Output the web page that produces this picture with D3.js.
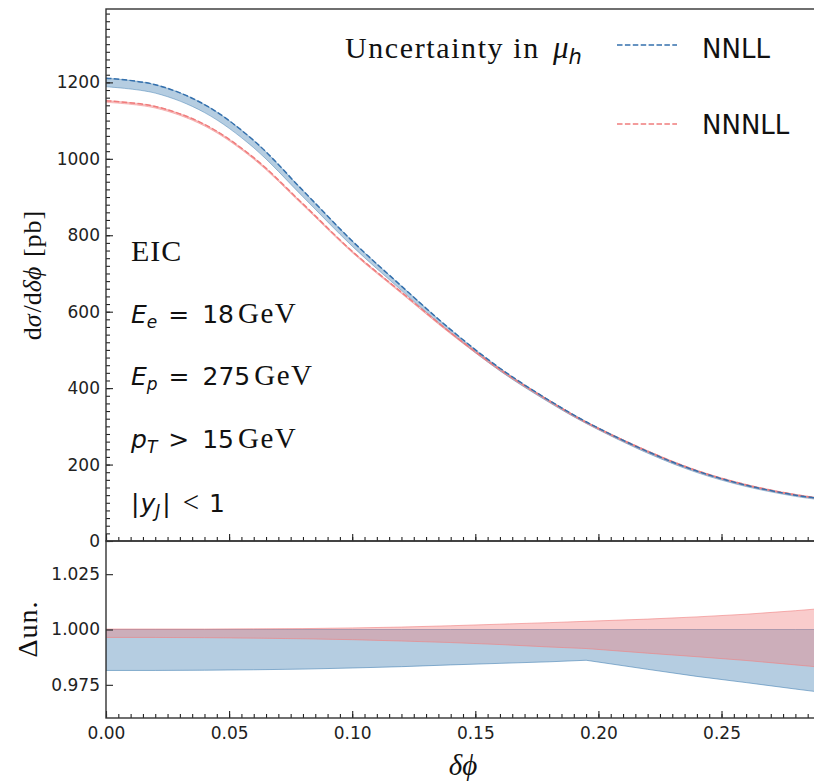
<!DOCTYPE html>
<html>
<head>
<meta charset="utf-8">
<script src="https://cdn.jsdelivr.net/npm/d3@7"></script>
<style>
  body { margin: 0; background: #fff; }
  svg { display: block; }
</style>
</head>
<body>
<div id="chart"></div>
<script>
// data
const dphi   = [0, 0.02, 0.04, 0.06, 0.08, 0.10, 0.12, 0.14, 0.16, 0.18, 0.195, 0.22, 0.24, 0.26, 0.28, 0.29];
const nnll   = [1211, 1194, 1142, 1048, 917, 785, 667, 553, 452, 368, 312, 234, 183, 146, 120, 111];
const nnnll  = [1152, 1137, 1090, 1003, 882, 758, 651, 545, 449, 367, 311, 235, 184, 147, 121, 112];
// band edges relative to the central value
const nnllLo  = [0.9815, 0.9815, 0.9816, 0.9818, 0.9821, 0.9826, 0.9832, 0.9840, 0.9847, 0.9854, 0.9861, 0.9820, 0.9788, 0.9760, 0.9731, 0.9717];
const nnllHi  = [1, 1, 1, 1, 1, 1, 1, 1, 1, 1, 1, 1, 1, 1, 1, 1];
const nnnllLo = [0.9964, 0.9964, 0.9963, 0.9961, 0.9958, 0.9954, 0.9948, 0.9941, 0.9932, 0.9921, 0.9914, 0.9893, 0.9877, 0.9860, 0.9840, 0.9830];
const nnnllHi = [1.0002, 1.0002, 1.0002, 1.0003, 1.0004, 1.0007, 1.0011, 1.0017, 1.0024, 1.0031, 1.0037, 1.0047, 1.0057, 1.0069, 1.0085, 1.0094];

const xTicks = [0, 0.05, 0.10, 0.15, 0.20, 0.25];
const yTicks = [0, 200, 400, 600, 800, 1000, 1200];
const rTicks = [0.975, 1.000, 1.025];

const width = 814, height = 783;
const pLeft = 106, pRight = 820, pTop = 9, pMid = 541, pBottom = 718;

const blue = "#3470ad", blueFill = "rgb(70,130,180)";
const red = "#f07c7c", redFill = "rgb(240,128,128)";

const svg = d3.select("#chart").append("svg")
  .attr("width", width).attr("height", height);

const x = d3.scaleLinear().domain([0, 0.29]).range([pLeft, pRight]);
const y = d3.scaleLinear().domain([0, 1392]).range([pMid, pTop]);
const yr = d3.scaleLinear().domain([0.96, 1.04]).range([pBottom, pMid]);

svg.append("clipPath").attr("id", "clipMain")
  .append("rect").attr("x", pLeft).attr("y", pTop).attr("width", pRight - pLeft).attr("height", pMid - pTop);
svg.append("clipPath").attr("id", "clipRatio")
  .append("rect").attr("x", pLeft).attr("y", pMid).attr("width", pRight - pLeft).attr("height", pBottom - pMid);

const pts = dphi.map((d, i) => ({
  x: d, a: nnll[i], b: nnnll[i],
  aLo: nnllLo[i], aHi: nnllHi[i], bLo: nnnllLo[i], bHi: nnnllHi[i]
}));

// main panel
const gMain = svg.append("g").attr("clip-path", "url(#clipMain)");
const smooth = d3.curveCatmullRom.alpha(0.5);

const bandA = d3.area().curve(smooth)
  .x(d => x(d.x)).y0(d => y(d.a * d.aLo)).y1(d => y(d.a * d.aHi));
const bandB = d3.area().curve(smooth)
  .x(d => x(d.x)).y0(d => y(d.b * d.bLo)).y1(d => y(d.b * d.bHi));

gMain.append("path").datum(pts).attr("d", bandA)
  .attr("fill", blueFill).attr("fill-opacity", 0.4)
  .attr("stroke", blueFill).attr("stroke-opacity", 0.5).attr("stroke-width", 1);
gMain.append("path").datum(pts).attr("d", bandB)
  .attr("fill", redFill).attr("fill-opacity", 0.4)
  .attr("stroke", redFill).attr("stroke-opacity", 0.5).attr("stroke-width", 1);

const lineA = d3.line().curve(smooth).x(d => x(d.x)).y(d => y(d.a));
const lineB = d3.line().curve(smooth).x(d => x(d.x)).y(d => y(d.b));

gMain.append("path").datum(pts).attr("d", lineB)
  .attr("fill", "none").attr("stroke", red).attr("stroke-width", 1.5)
  .attr("stroke-dasharray", "5.5,2.4");
gMain.append("path").datum(pts).attr("d", lineA)
  .attr("fill", "none").attr("stroke", blue).attr("stroke-width", 1.5)
  .attr("stroke-dasharray", "5.5,2.4");

// ratio panel
const gRatio = svg.append("g").attr("clip-path", "url(#clipRatio)");

const rA = d3.area().x(d => x(d.x)).y0(d => yr(d.aLo)).y1(d => yr(d.aHi));
const rB = d3.area().x(d => x(d.x)).y0(d => yr(d.bLo)).y1(d => yr(d.bHi));

gRatio.append("path").datum(pts).attr("d", rA)
  .attr("fill", blueFill).attr("fill-opacity", 0.4)
  .attr("stroke", blueFill).attr("stroke-opacity", 0.6).attr("stroke-width", 1);
gRatio.append("path").datum(pts).attr("d", rB)
  .attr("fill", redFill).attr("fill-opacity", 0.4)
  .attr("stroke", redFill).attr("stroke-opacity", 0.6).attr("stroke-width", 1);

// axes
function styleAxis(g) {
  g.select(".domain").remove();
  g.selectAll(".tick line").attr("stroke", "#222").attr("stroke-width", 1.1);
  g.selectAll(".tick text")
    .attr("font-family", "DejaVu Sans").attr("font-size", 17).attr("fill", "#222");
}

const minorY = d3.range(0, 1392, 20);
const minorX = d3.range(0, 0.2901, 0.005);

svg.append("g").attr("transform", `translate(${pLeft},0)`)
  .call(d3.axisLeft(y).tickValues(minorY).tickSize(-4).tickFormat(""))
  .call(styleAxis);
svg.append("g").attr("transform", `translate(${pLeft},0)`)
  .call(d3.axisLeft(y).tickValues(yTicks).tickSize(-7).tickPadding(6).tickFormat(d3.format("d")))
  .call(styleAxis);

svg.append("g").attr("transform", `translate(${pLeft},0)`)
  .call(d3.axisLeft(yr).tickValues(rTicks).tickSize(-7).tickPadding(6).tickFormat(d3.format(".3f")))
  .call(styleAxis);

// x ticks on the bottom of the main panel and the bottom of the ratio panel
[pMid, pBottom].forEach(py => {
  svg.append("g").attr("transform", `translate(0,${py})`)
    .call(d3.axisBottom(x).tickValues(minorX).tickSize(-4).tickFormat(""))
    .call(styleAxis);
  svg.append("g").attr("transform", `translate(0,${py})`)
    .call(d3.axisBottom(x).tickValues(xTicks).tickSize(-7).tickPadding(9)
      .tickFormat(py === pBottom ? d3.format(".2f") : ""))
    .call(styleAxis);
});

// frames
[[pTop, pMid], [pMid, pBottom]].forEach(([a, b]) => {
  svg.append("rect").attr("x", pLeft).attr("y", a)
    .attr("width", pRight - pLeft).attr("height", b - a)
    .attr("fill", "none").attr("stroke", "#333").attr("stroke-width", 1.4);
});

// text helper: segments of [text, family, style, size, dy, dx, letterSpacing]
function richText(px, py, segs, anchor) {
  const t = svg.append("text").attr("x", px).attr("y", py).attr("fill", "#111")
    .attr("text-anchor", anchor || "start");
  segs.forEach(s => {
    t.append("tspan").text(s[0])
      .attr("font-family", s[1]).attr("font-style", s[2])
      .attr("font-size", s[3]).attr("dy", s[4] || 0)
      .attr("dx", s[5] || 0)
      .attr("letter-spacing", s[6] || 0);
  });
  return t;
}

const serif = "Liberation Serif", sans = "DejaVu Sans";

richText(131, 261, [["EIC", serif, "normal", 30, 0, 0, 1]]);
richText(131, 323, [["E", sans, "italic", 25], ["e", sans, "italic", 17, 5],
  ["=", sans, "normal", 25, -5, 11], ["18", sans, "normal", 25, 0, 13], ["GeV", serif, "normal", 29, 0, 4, 1.5]]);
richText(131, 385, [["E", sans, "italic", 25], ["p", sans, "italic", 17, 5],
  ["=", sans, "normal", 25, -5, 11], ["275", sans, "normal", 25, 0, 13], ["GeV", serif, "normal", 29, 0, 4, 1.5]]);
richText(131, 448, [["p", sans, "italic", 25], ["T", sans, "italic", 17, 5],
  [">", sans, "normal", 25, -5, 11], ["15", sans, "normal", 25, 0, 13], ["GeV", serif, "normal", 29, 0, 4, 1.5]]);
richText(131, 512, [["|", sans, "normal", 25], ["y", sans, "italic", 25, 0, 1], ["J", sans, "italic", 17, 5],
  ["|", sans, "normal", 25, -5, 2], ["<", serif, "normal", 29, 0, 12], ["1", sans, "normal", 25, 0, 10]]);

richText(345, 58, [["Uncertainty in ", serif, "normal", 30, 0, 0, 1.6], ["\u03bc", serif, "italic", 31, 0, 4],
  ["h", sans, "italic", 21, 6]]);

// legend
const legend = [["NNLL", blue, 45, 58], ["NNNLL", red, 124, 134]];
legend.forEach(([name, col, ly, ty]) => {
  svg.append("line").attr("x1", 617).attr("x2", 677).attr("y1", ly).attr("y2", ly)
    .attr("stroke", col).attr("stroke-width", 1.5).attr("stroke-dasharray", "5.5,2.4");
  svg.append("text").attr("x", 702).attr("y", ty).text(name)
    .attr("font-family", sans).attr("font-size", 26).attr("fill", "#111");
});

// axis labels
richText(0, 0, [["d", serif, "normal", 26], ["\u03c3", serif, "italic", 26], ["/d", serif, "normal", 26, 0, 2],
  ["\u03b4\u03d5", serif, "italic", 26], [" [pb]", serif, "normal", 26, 0, 2, 1]], "middle")
  .attr("transform", "translate(41,275) rotate(-90)");
richText(0, 0, [["\u0394un.", serif, "normal", 28, 0, 0, 1]], "middle")
  .attr("transform", "translate(37,629) rotate(-90)");
richText(463, 775, [["\u03b4\u03d5", serif, "italic", 29]], "middle");
</script>
</body>
</html>
